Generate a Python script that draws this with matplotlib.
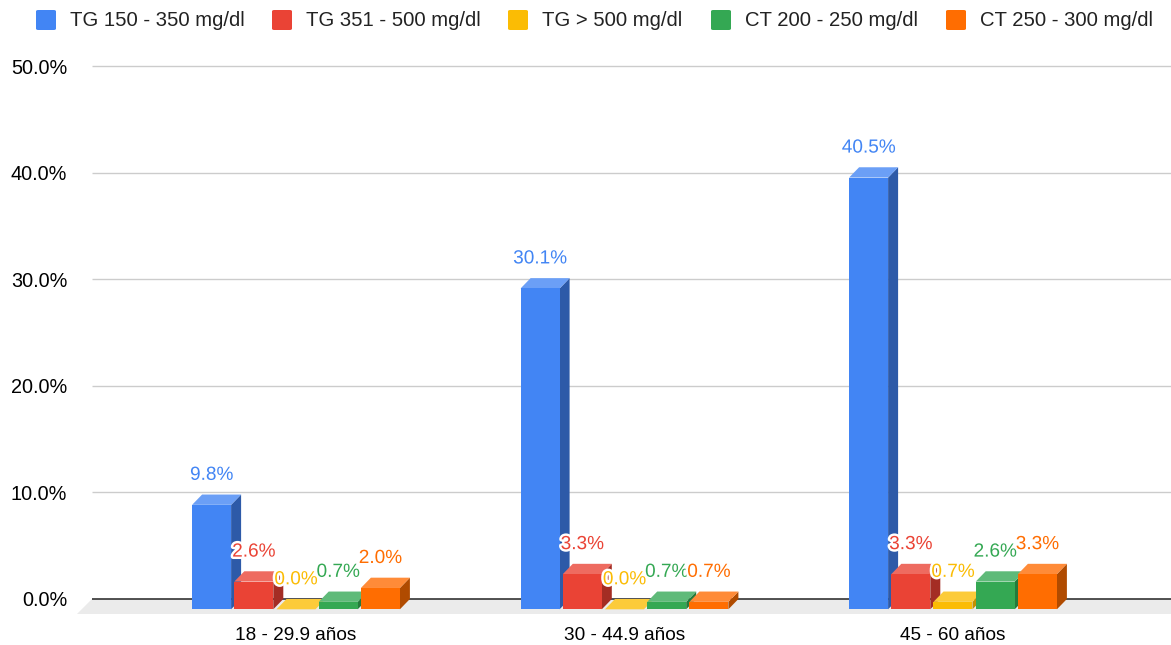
import matplotlib

matplotlib.use("Agg")
import matplotlib.pyplot as plt
import matplotlib.patheffects as pe
from matplotlib.patches import Polygon, FancyBboxPatch

plt.rcParams["font.family"] = ["Liberation Sans", "DejaVu Sans"]

groups = ["18 - 29.9 años", "30 - 44.9 años", "45 - 60 años"]
series = [
    "TG 150 - 350 mg/dl",
    "TG 351 - 500 mg/dl",
    "TG > 500 mg/dl",
    "CT 200 - 250 mg/dl",
    "CT 250 - 300 mg/dl",
]
tg_150_350 = [9.8, 30.1, 40.5]
tg_351_500 = [2.6, 3.3, 3.3]
tg_500 = [0.0, 0.0, 0.7]
ct_200_250 = [0.7, 0.7, 2.6]
ct_250_300 = [2.0, 0.7, 3.3]
values = [tg_150_350, tg_351_500, tg_500, ct_200_250, ct_250_300]

# front / side / top face colours per series
front = ["#4285f4", "#ea4335", "#fbbc04", "#34a853", "#ff6d01"]
side = ["#2d5aa8", "#a42d24", "#c49000", "#247a3b", "#b04b00"]
top = ["#6b9ff6", "#ee6b60", "#fccb3a", "#5fba79", "#ff8b38"]

yticks = [0, 10, 20, 30, 40, 50]

W, H = 1171, 645
X0 = 296              # pixel of the first group centre
PX_X = 328.5          # pixels per group
PX_Y = 10.66          # pixels per percentage point
BAR_W = 39.0 / PX_X
STEP = 42.2 / PX_X
DX = 10 / PX_X        # depth offset (x)
DY = 10.3 / PX_Y      # depth offset (y)

fig = plt.figure(figsize=(W / 100, H / 100), dpi=100)
ax = fig.add_axes([77 / W, (H - 620) / H, 1 - 77 / W, 580 / H])
ax.set_xlim((77 - X0) / PX_X, (W - X0) / PX_X)
ax.set_ylim(-21 / PX_Y, 559 / PX_Y)
for s in ax.spines.values():
    s.set_visible(False)

wall_x0 = (92 - X0) / PX_X
floor_x0 = (77 - X0) / PX_X
xmax = ax.get_xlim()[1]

# floor
floor_front = -15 / PX_Y
ax.add_patch(Polygon([(wall_x0, 0), (xmax + 1, 0), (xmax + 1, floor_front), (floor_x0, floor_front)],
                     closed=True, facecolor="#ebebeb", edgecolor="none", zorder=1))

# gridlines on back wall
for t in yticks:
    ax.plot([wall_x0, xmax + 1], [t, t], color="#333333" if t == 0 else "#cccccc",
            lw=1.2 if t == 0 else 1.0, zorder=2, solid_capstyle="butt")

z = 3
for g in range(len(groups)):
    for j, vals in enumerate(values):
        v = vals[g]
        x = g + (j - 2) * STEP - BAR_W / 2
        y0 = -DY
        ax.add_patch(Polygon([(x + BAR_W, y0), (x + BAR_W + DX, y0 + DY),
                              (x + BAR_W + DX, v), (x + BAR_W, v - DY)],
                             closed=True, facecolor=side[j], edgecolor="none", zorder=z))
        ax.add_patch(Polygon([(x, v - DY), (x + BAR_W, v - DY),
                              (x + BAR_W + DX, v), (x + DX, v)],
                             closed=True, facecolor=top[j], edgecolor="none", zorder=z))
        ax.add_patch(Polygon([(x, y0), (x + BAR_W, y0), (x + BAR_W, v - DY), (x, v - DY)],
                             closed=True, facecolor=front[j], edgecolor="none", zorder=z))
        z += 1

# data labels drawn above all bars
for g in range(len(groups)):
    for j, vals in enumerate(values):
        v = vals[g]
        cx = g + (j - 2) * STEP
        ax.text(cx, v + 1.8, f"{v:.1f}%", ha="center", va="center", fontsize=13.7,
                color=front[j], zorder=100,
                path_effects=[pe.withStroke(linewidth=3.5, foreground="white")])

ax.set_yticks(yticks, [f"{t:.1f}%" for t in yticks])
ax.set_xticks(range(len(groups)), groups)
ax.tick_params(axis="y", length=0, pad=7, labelsize=14.3)
ax.tick_params(axis="x", length=0, pad=5, labelsize=13.7)

# legend along the top
leg_sq = [36, 272, 508, 711, 946]
for j, name in enumerate(series):
    fig.patches.append(FancyBboxPatch((leg_sq[j] / W, (H - 30) / H), 20 / W, 20 / H,
                                      boxstyle="round,pad=0,rounding_size=0.002",
                                      transform=fig.transFigure, facecolor=front[j],
                                      edgecolor="none"))
    fig.text((leg_sq[j] + 34) / W, (H - 20) / H, name, ha="left", va="center",
             fontsize=14.6, color="#222222")

fig.savefig("out.png", dpi=100)
